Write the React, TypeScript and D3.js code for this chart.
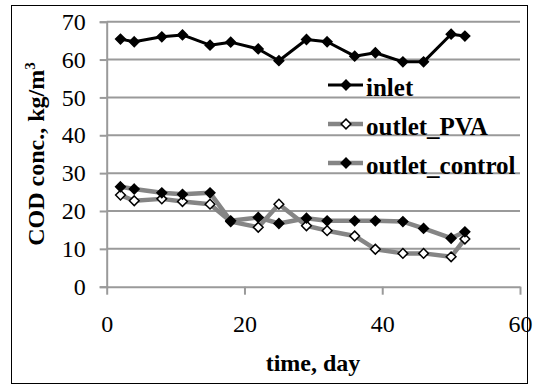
import React, { useEffect, useRef } from 'react';
import * as d3 from 'd3';

// days of sampling
const days = [2, 4, 8, 11, 15, 18, 22, 25, 29, 32, 36, 39, 43, 46, 50, 52];
// COD, kg/m3
const inlet = [65.4, 64.7, 66.0, 66.5, 63.8, 64.6, 62.8, 59.7, 65.3, 64.7, 60.9, 61.8, 59.4, 59.4, 66.7, 66.2];
const outletPVA = [24.2, 22.7, 23.2, 22.5, 21.8, 17.2, 15.7, 21.8, 16.1, 14.8, 13.4, 9.9, 8.8, 8.8, 7.9, 12.6];
const outletControl = [26.4, 25.8, 24.8, 24.4, 24.8, 17.4, 18.3, 16.7, 18.1, 17.4, 17.4, 17.4, 17.2, 15.4, 12.8, 14.5];

const xTicks = [0, 20, 40, 60];
const yTicks = [0, 10, 20, 30, 40, 50, 60, 70];

const W = 533;
const H = 389;
const FONT = 'Liberation Serif, Times New Roman, serif';

export default function App() {
  const ref = useRef<SVGSVGElement>(null);

  useEffect(() => {
    const svg = d3.select(ref.current);
    svg.selectAll('*').remove();

    // outer frame
    svg.append('rect')
      .attr('x', 11.5).attr('y', 5.5)
      .attr('width', 516).attr('height', 378)
      .attr('fill', 'white').attr('stroke', 'black').attr('stroke-width', 1);

    const x = d3.scaleLinear().domain([0, 60]).range([106.7, 520]);
    const y = d3.scaleLinear().domain([0, 70]).range([286.7, 21.7]);

    const grid = '#9a9a9a';

    // horizontal gridlines
    svg.append('g')
      .selectAll('line')
      .data(yTicks.slice(1))
      .enter().append('line')
      .attr('x1', x(0)).attr('x2', x(60))
      .attr('y1', d => y(d)).attr('y2', d => y(d))
      .attr('stroke', grid).attr('stroke-width', 2);

    // y axis
    const yAxis = svg.append('g')
      .attr('transform', `translate(${x(0)},0)`)
      .call(d3.axisLeft(y).tickValues(yTicks).tickSize(7).tickPadding(14).tickFormat(d3.format('d')))
      .attr('font-family', FONT).attr('font-size', 24);
    yAxis.select('.domain').attr('stroke', grid).attr('stroke-width', 2);
    yAxis.selectAll('.tick line').attr('stroke', grid).attr('stroke-width', 2);
    yAxis.selectAll('.tick text').style('font-family', FONT).attr('fill', 'black');

    // x axis
    const xAxis = svg.append('g')
      .attr('transform', `translate(0,${y(0)})`)
      .call(d3.axisBottom(x).tickValues(xTicks).tickSize(8).tickPadding(20).tickSizeOuter(0))
      .attr('font-family', FONT).attr('font-size', 24);
    xAxis.select('.domain').attr('stroke', grid).attr('stroke-width', 2);
    xAxis.selectAll('.tick line').attr('stroke', grid).attr('stroke-width', 2);
    xAxis.selectAll('.tick text').style('font-family', FONT).attr('fill', 'black');

    // axis titles
    svg.append('text')
      .attr('x', 313).attr('y', 371)
      .attr('text-anchor', 'middle')
      .style('font-family', FONT).attr('font-size', 24).attr('font-weight', 'bold')
      .text('time, day');

    const yt = svg.append('text')
      .attr('transform', 'translate(44,154) rotate(-90)')
      .attr('text-anchor', 'middle')
      .style('font-family', FONT).attr('font-size', 24).attr('font-weight', 'bold');
    yt.append('tspan').text('COD conc., kg/m');
    yt.append('tspan').attr('dy', -9).attr('font-size', 15).text('3');

    const series = [
      { name: 'inlet', values: inlet, color: 'black', width: 3, fill: 'black', ly: 85 },
      { name: 'outlet_PVA', values: outletPVA, color: '#858585', width: 4.5, fill: 'white', ly: 124 },
      { name: 'outlet_control', values: outletControl, color: '#858585', width: 4.5, fill: 'black', ly: 163 },
    ];

    const line = d3.line<number>()
      .x((d, i) => x(days[i]))
      .y(d => y(d));

    const diamond = d3.symbol().type(d3.symbolDiamond2).size(60);

    series.forEach(s => {
      svg.append('path')
        .attr('d', line(s.values))
        .attr('fill', 'none')
        .attr('stroke', s.color)
        .attr('stroke-width', s.width)
        .attr('stroke-linejoin', 'round');
      svg.append('g')
        .selectAll('path')
        .data(s.values)
        .enter().append('path')
        .attr('d', diamond)
        .attr('transform', (d, i) => `translate(${x(days[i])},${y(d)})`)
        .attr('fill', s.fill)
        .attr('stroke', 'black')
        .attr('stroke-width', 1.5);

      // legend entry
      svg.append('line')
        .attr('x1', 328).attr('x2', 363)
        .attr('y1', s.ly).attr('y2', s.ly)
        .attr('stroke', s.color).attr('stroke-width', s.width);
      svg.append('path')
        .attr('d', diamond)
        .attr('transform', `translate(346,${s.ly})`)
        .attr('fill', s.fill).attr('stroke', 'black').attr('stroke-width', 1.5);
      svg.append('text')
        .attr('x', 366).attr('y', s.ly + 11)
        .style('font-family', FONT).attr('font-size', 25).attr('font-weight', 'bold')
        .text(s.name);
    });
  }, []);

  return (
    <svg ref={ref} width={W} height={H}
      style={{ position: 'absolute', left: 0, top: 0, background: 'white' }} />
  );
}
